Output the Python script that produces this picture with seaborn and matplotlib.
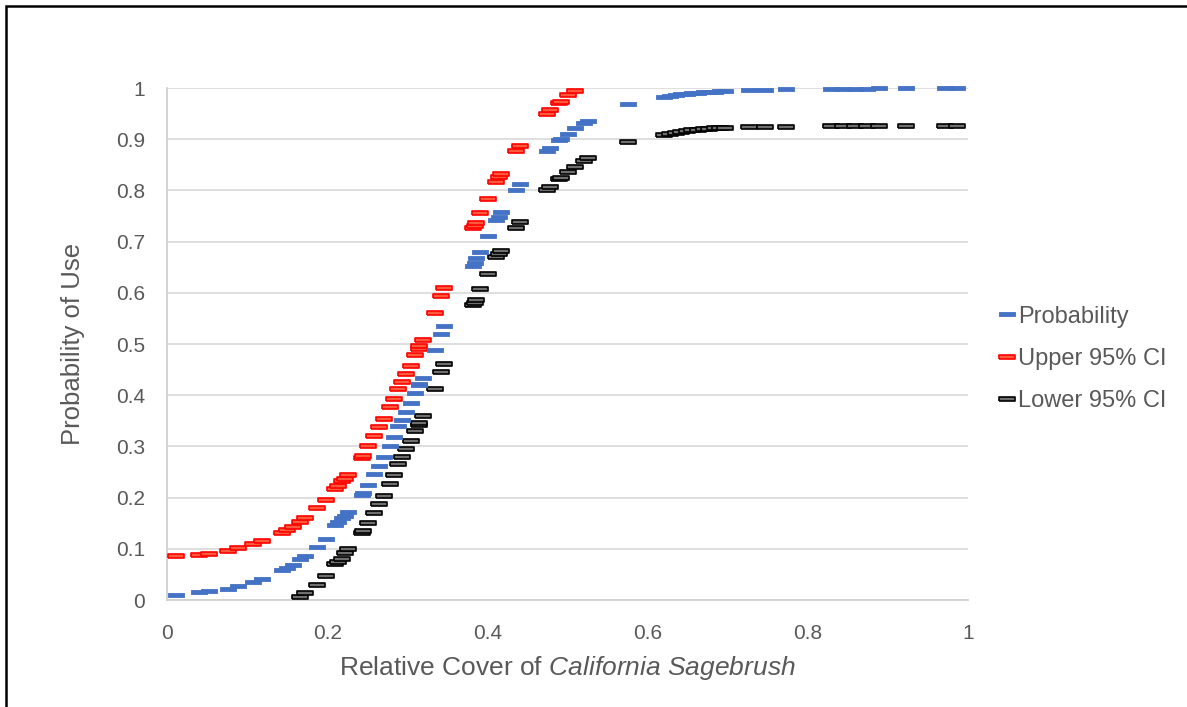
import matplotlib
matplotlib.use("Agg")
import matplotlib.pyplot as plt
from matplotlib.lines import Line2D
from matplotlib.patches import Rectangle
import numpy as np
import pandas as pd
import seaborn as sns

nan = np.nan

# relative cover (x) shared by all three series
cover = [0.011, 0.040, 0.052, 0.076, 0.089, 0.107, 0.118, 0.144, 0.150, 0.157,
         0.166, 0.172, 0.187, 0.198, 0.210, 0.214, 0.219, 0.222, 0.226, 0.243,
         0.245, 0.251, 0.259, 0.265, 0.271, 0.278, 0.284, 0.289, 0.293, 0.298,
         0.304, 0.310, 0.314, 0.315, 0.319, 0.335, 0.342, 0.346, 0.382, 0.384,
         0.386, 0.391, 0.401, 0.411, 0.414, 0.417, 0.436, 0.441, 0.474, 0.478,
         0.490, 0.492, 0.500, 0.509, 0.521, 0.525, 0.576, 0.621, 0.628, 0.635,
         0.642, 0.649, 0.656, 0.663, 0.670, 0.677, 0.684, 0.691, 0.697, 0.727,
         0.747, 0.773, 0.829, 0.844, 0.859, 0.874, 0.889, 0.922, 0.971, 0.986]

probability = [0.010, 0.015, 0.017, 0.022, 0.027, 0.035, 0.041, 0.058, 0.063, 0.069,
               0.080, 0.086, 0.104, 0.120, 0.146, 0.152, 0.160, 0.165, 0.172, 0.205,
               0.209, 0.225, 0.246, 0.262, 0.279, 0.300, 0.318, 0.339, 0.352, 0.367,
               0.384, 0.405, 0.419, 0.422, 0.434, 0.488, 0.519, 0.535, 0.652, 0.659,
               0.667, 0.680, 0.711, 0.742, 0.749, 0.757, 0.800, 0.812, 0.876, 0.882,
               0.898, 0.900, 0.911, 0.921, 0.932, 0.935, 0.969, 0.983, 0.985, 0.986,
               0.988, 0.989, 0.990, 0.991, 0.992, 0.992, 0.993, 0.994, 0.994, 0.996,
               0.997, 0.998, 0.999, 0.999, 0.999, 0.999, 1.000, 1.000, 1.000, 1.000]

upper_ci = [0.085, 0.088, 0.090, 0.096, 0.102, 0.109, 0.115, 0.131, 0.136, 0.142,
            0.153, 0.160, 0.179, 0.195, 0.217, 0.222, 0.232, 0.237, 0.245, 0.278,
            0.282, 0.300, 0.321, 0.337, 0.354, 0.376, 0.393, 0.413, 0.426, 0.441,
            0.458, 0.479, 0.490, 0.496, 0.508, 0.561, 0.593, 0.609, 0.726, 0.731,
            0.736, 0.755, 0.784, 0.817, 0.826, 0.832, 0.876, 0.887, 0.950, 0.957,
            0.970, 0.973, 0.986, 0.995, nan, nan, nan, nan, nan, nan,
            nan, nan, nan, nan, nan, nan, nan, nan, nan, nan,
            nan, nan, nan, nan, nan, nan, nan, nan, nan, nan]

lower_ci = [nan, nan, nan, nan, nan, nan, nan, nan, nan, nan,
            0.006, 0.013, 0.030, 0.046, 0.070, 0.075, 0.081, 0.091, 0.099, 0.130,
            0.135, 0.150, 0.170, 0.188, 0.204, 0.227, 0.244, 0.265, 0.279, 0.294,
            0.310, 0.331, 0.342, 0.346, 0.360, 0.413, 0.445, 0.461, 0.577, 0.581,
            0.585, 0.607, 0.637, 0.669, 0.676, 0.682, 0.727, 0.739, 0.800, 0.807,
            0.822, 0.824, 0.836, 0.846, 0.858, 0.863, 0.894, 0.909, 0.911, 0.913,
            0.914, 0.916, 0.917, 0.918, 0.919, 0.920, 0.921, 0.922, 0.922, 0.923,
            0.924, 0.924, 0.925, 0.925, 0.925, 0.926, 0.926, 0.926, 0.926, 0.926]

y_ticks = [0, 0.1, 0.2, 0.3, 0.4, 0.5, 0.6, 0.7, 0.8, 0.9, 1]
y_tick_labels = ["0", "0.1", "0.2", "0.3", "0.4", "0.5", "0.6", "0.7", "0.8", "0.9", "1"]
x_ticks = [0, 0.2, 0.4, 0.6, 0.8, 1]
x_tick_labels = ["0", "0.2", "0.4", "0.6", "0.8", "1"]

df = pd.DataFrame({"cover": cover, "Probability": probability,
                   "Upper 95% CI": upper_ci, "Lower 95% CI": lower_ci})

sns.set_style("white")
plt.rcParams["font.family"] = ["Liberation Sans", "DejaVu Sans"]
plt.rcParams["mathtext.fontset"] = "custom"
plt.rcParams["mathtext.rm"] = "Liberation Sans"
plt.rcParams["mathtext.it"] = "Liberation Sans:italic"

text_col = "#595959"
# dash marker (wide flat rectangle) like Excel's "-" marker
dash = [(-1, -0.3), (1, -0.3), (1, 0.3), (-1, 0.3), (-1, -0.3)]

fig = plt.figure(figsize=(11.87, 7.07), dpi=100)
ax = fig.add_axes([167 / 1187, 1 - 600 / 707, 801 / 1187, 512 / 707])

styles = {
    "Probability": dict(fc="#4472C4", ec="#4472C4", lw=0.6),
    "Upper 95% CI": dict(fc="#FF5A3C", ec="#FF0000", lw=1.2),
    "Lower 95% CI": dict(fc="#6F6F6F", ec="#000000", lw=1.2),
}

for name in ["Lower 95% CI", "Upper 95% CI", "Probability"]:
    st = styles[name]
    sns.scatterplot(data=df, x="cover", y=name, ax=ax, marker=dash, s=130,
                    color=st["fc"], edgecolor=st["ec"], linewidth=st["lw"],
                    clip_on=False, zorder=3)

ax.set_xlim(0, 1)
ax.set_ylim(0, 1)
ax.set_xticks(x_ticks)
ax.set_xticklabels(x_tick_labels)
ax.set_yticks(y_ticks)
ax.set_yticklabels(y_tick_labels)
ax.tick_params(axis="both", length=0, labelsize=15, labelcolor=text_col)
ax.tick_params(axis="y", pad=16)
ax.tick_params(axis="x", pad=17)

ax.yaxis.grid(True, color="#d9d9d9", linewidth=1.2)
ax.xaxis.grid(False)
for side in ["top", "right"]:
    ax.spines[side].set_visible(False)
for side in ["left", "bottom"]:
    ax.spines[side].set_color("#d0d0d0")
    ax.spines[side].set_linewidth(1.3)

ax.set_xlabel(r"Relative Cover of $\mathit{California\ Sagebrush}$",
              fontsize=19, color=text_col)
ax.set_ylabel("Probability of Use", fontsize=18.5, color=text_col)
ax.xaxis.set_label_coords(0.5, -0.106)
ax.yaxis.set_label_coords(-0.102, 0.5)

handles = [Line2D([], [], linestyle="none", marker=dash, markersize=11,
                  markerfacecolor=styles[n]["fc"], markeredgecolor=styles[n]["ec"],
                  markeredgewidth=styles[n]["lw"])
           for n in ["Probability", "Upper 95% CI", "Lower 95% CI"]]
leg = fig.legend(handles, ["Probability", "Upper 95% CI", "Lower 95% CI"],
                 loc="center left", bbox_to_anchor=(1000 / 1187, 1 - 359 / 707),
                 frameon=False, fontsize=17, handlelength=0.6, handletextpad=0.15,
                 labelspacing=0.86, borderpad=0, borderaxespad=0)
for t in leg.get_texts():
    t.set_color(text_col)

# outer chart border (left and top edges visible in the image)
fig.patches.append(Rectangle((6 / 1187, -0.1), 1.2, 1 - 6 / 707 + 0.1,
                             transform=fig.transFigure, fill=False,
                             edgecolor="black", linewidth=1.8))

fig.savefig("out.png", dpi=100)
